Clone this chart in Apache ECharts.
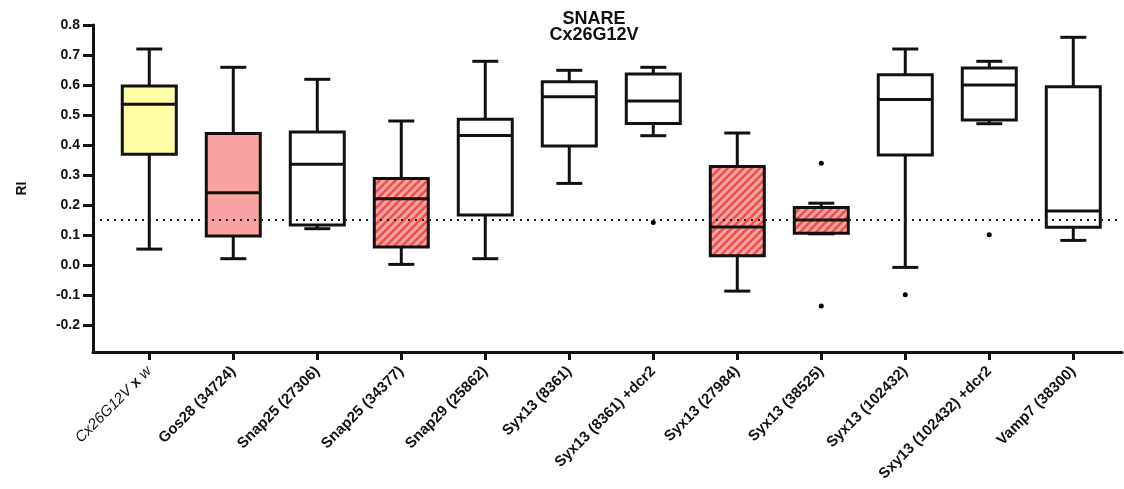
<!DOCTYPE html>
<html>
<head>
<meta charset="utf-8">
<script src="https://cdn.jsdelivr.net/npm/echarts@6/dist/echarts.min.js"></script>
<style>html,body{margin:0;padding:0;background:#fff;}#c{width:1124px;height:489px;}</style>
</head>
<body>
<div id="c"></div>
<script>
const categories = ['Cx26G12V x w','Gos28 (34724)','Snap25 (27306)','Snap25 (34377)','Snap29 (25862)','Syx13 (8361)','Syx13 (8361) +dcr2','Syx13 (27984)','Syx13 (38525)','Syx13 (102432)','Sxy13 (102432) +dcr2','Vamp7 (38300)'];
const whiskerLow  = [0.053, 0.021, 0.121, 0.002, 0.021, 0.272, 0.431, -0.087, 0.104, -0.008, 0.471, 0.082];
const q1          = [0.369, 0.097, 0.133, 0.060, 0.167, 0.397, 0.472, 0.031, 0.106, 0.367, 0.483, 0.126];
const medians     = [0.536, 0.241, 0.336, 0.221, 0.432, 0.561, 0.547, 0.127, 0.150, 0.552, 0.600, 0.180];
const q3          = [0.597, 0.438, 0.443, 0.288, 0.486, 0.611, 0.637, 0.328, 0.192, 0.634, 0.657, 0.594];
const whiskerHigh = [0.720, 0.659, 0.619, 0.480, 0.679, 0.649, 0.659, 0.440, 0.206, 0.720, 0.679, 0.759];
const fillType    = ['yellow','pink','white','hatch','white','white','white','hatch','hatch','white','white','white'];
const outliers    = [[6, 0.142], [8, 0.339], [8, -0.137], [9, -0.099], [10, 0.101]];
const yTicks      = [-0.2, -0.1, 0.0, 0.1, 0.2, 0.3, 0.4, 0.5, 0.6, 0.7, 0.8];
const refLine     = 0.15;

// hatch pattern
const pc = document.createElement('canvas');
pc.width = 8; pc.height = 8;
const pctx = pc.getContext('2d');
pctx.fillStyle = '#F8A4A2';
pctx.fillRect(0,0,8,8);
pctx.strokeStyle = '#E8524F';
pctx.lineWidth = 2.6;
[[-4,4,4,-4],[0,8,8,0],[4,12,12,4]].forEach(function(s){
  pctx.beginPath(); pctx.moveTo(s[0], s[1]); pctx.lineTo(s[2], s[3]); pctx.stroke();
});

const fills = {
  yellow: '#FFFFA6',
  pink: '#F8A3A2',
  white: '#FFFFFF',
  hatch: {image: pc, repeat: 'repeat'}
};

const boxData = categories.map(function(c, i){
  return [i, whiskerLow[i], q1[i], medians[i], q3[i], whiskerHigh[i]];
});

const chart = echarts.init(document.getElementById('c'), null, {renderer: 'canvas'});
const FONT = '"Liberation Sans", Arial, sans-serif';
const BOX_HALF = 27, CAP_HALF = 13, LW = 3, STROKE = '#111';
const XFS = 15;

chart.setOption({
  animation: false,
  backgroundColor: '#fff',
  title: {
    text: 'SNARE\nCx26G12V',
    left: 589, top: 6, textAlign: 'center',
    textStyle: {fontFamily: FONT, fontSize: 18, fontWeight: 'bold', color: '#111', lineHeight: 16}
  },
  grid: {left: 93, right: 2, top: 25, bottom: 137},
  xAxis: {
    type: 'value', min: -0.67, max: 11.58,
    splitLine: {show: false},
    axisLine: {show: true, onZero: false, lineStyle: {color: STROKE, width: 3}},
    axisTick: {show: true, length: 8, lineStyle: {color: STROKE, width: 3}, customValues: categories.map(function(c,i){return i;})},
    axisLabel: {
      customValues: categories.map(function(c,i){return i;}),
      rotate: 45, margin: 17,
      fontFamily: FONT, fontSize: XFS, fontWeight: 'bold', color: '#111',
      formatter: function(v){
        const n = categories[Math.round(v)];
        if (Math.round(v) === 0) return '{i|Cx26G12V} {b|x} {i|w}';
        return n;
      },
      rich: {
        i: {fontFamily: FONT, fontSize: XFS, fontStyle: 'italic', fontWeight: 'normal', color: '#111'},
        b: {fontFamily: FONT, fontSize: XFS, fontWeight: 'bold', color: '#111'}
      }
    }
  },
  yAxis: {
    type: 'value', min: -0.29, max: 0.8,
    name: 'RI', nameLocation: 'middle', nameRotate: 90, nameGap: 64,
    nameTextStyle: {fontFamily: FONT, fontSize: 14, fontWeight: 'bold', color: '#111'},
    splitLine: {show: false},
    axisLine: {show: true, onZero: false, lineStyle: {color: STROKE, width: 3}},
    axisTick: {show: true, length: 10, lineStyle: {color: STROKE, width: 3}, customValues: yTicks},
    axisLabel: {
      customValues: yTicks, margin: 13,
      fontFamily: FONT, fontSize: 14, fontWeight: 'bold', color: '#111',
      formatter: function(v){ return v.toFixed(1); }
    }
  },
  series: [
    {
      type: 'line',
      data: [],
      markLine: {
        silent: true, symbol: 'none', label: {show: false},
        lineStyle: {type: [2, 5], color: '#222', width: 2},
        data: [{yAxis: refLine}]
      }
    },
    {
      type: 'custom',
      data: boxData,
      encode: {x: 0, y: [1, 2, 3, 4, 5]},
      renderItem: function(params, api){
        const i = api.value(0);
        const pLow = api.coord([i, api.value(1)]);
        const pQ1 = api.coord([i, api.value(2)]);
        const pMed = api.coord([i, api.value(3)]);
        const pQ3 = api.coord([i, api.value(4)]);
        const pHigh = api.coord([i, api.value(5)]);
        const x = pMed[0];
        const ls = {stroke: STROKE, lineWidth: LW, fill: null};
        return {
          type: 'group',
          children: [
            {type: 'line', shape: {x1: x, y1: pHigh[1], x2: x, y2: pQ3[1]}, style: ls},
            {type: 'line', shape: {x1: x, y1: pQ1[1], x2: x, y2: pLow[1]}, style: ls},
            {type: 'line', shape: {x1: x - CAP_HALF, y1: pHigh[1], x2: x + CAP_HALF, y2: pHigh[1]}, style: ls},
            {type: 'line', shape: {x1: x - CAP_HALF, y1: pLow[1], x2: x + CAP_HALF, y2: pLow[1]}, style: ls},
            {type: 'rect', shape: {x: x - BOX_HALF, y: pQ3[1], width: BOX_HALF * 2, height: pQ1[1] - pQ3[1]},
              style: {fill: fills[fillType[params.dataIndex]], stroke: STROKE, lineWidth: LW}},
            {type: 'line', shape: {x1: x - BOX_HALF, y1: pMed[1], x2: x + BOX_HALF, y2: pMed[1]}, style: ls}
          ]
        };
      }
    },
    {
      type: 'scatter',
      data: outliers,
      symbol: 'circle', symbolSize: 5,
      itemStyle: {color: '#000', opacity: 1}
    }
  ]
});
</script>
</body>
</html>
